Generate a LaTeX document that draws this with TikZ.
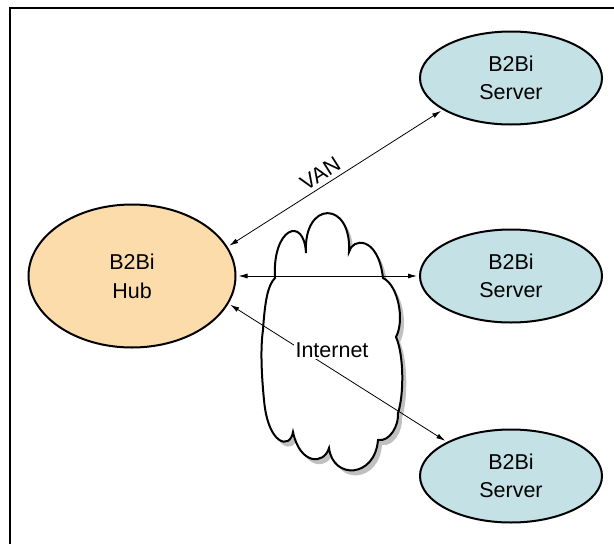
\documentclass[tikz,border=0pt]{standalone}
\usepackage{fontspec}
\setmainfont{Liberation Sans}
\usetikzlibrary{shapes.geometric,arrows.meta}
\definecolor{hubfill}{RGB}{253,220,172}
\definecolor{srvfill}{RGB}{196,226,230}
\definecolor{shadowgray}{RGB}{192,192,192}
\tikzset{
  hubnode/.style={ellipse,draw,line width=2pt,fill=hubfill,minimum width=207pt,minimum height=143pt,inner sep=0pt,align=center,font=\fontsize{21.5}{29}\selectfont},
  srvnode/.style={ellipse,draw,line width=2pt,fill=srvfill,minimum width=182pt,minimum height=93pt,inner sep=0pt,align=center,font=\fontsize{21.5}{28}\selectfont},
  link/.style={line width=0.8pt,shorten <=2pt,shorten >=2pt,{Latex[length=9pt,width=5pt]}-{Latex[length=9pt,width=5pt]}},
  lbl/.style={font=\fontsize{21.5}{26}\selectfont},
  frameline/.style={line width=2pt},
  cloudline/.style={line width=2pt,fill=white}
}
\newcommand\cloudshape{(275,278)
  .. controls (272,228) and (304,215) .. (306,253)
  .. controls (303,200) and (352,200) .. (349,252)
  .. controls (352,238) and (378,235) .. (383,278)
  .. controls (398,285) and (405,320) .. (396,337)
  .. controls (404,355) and (404,395) .. (398,413)
  .. controls (399,425) and (390,442) .. (378,440)
  .. controls (375,478) and (333,480) .. (329,448)
  .. controls (324,465) and (300,465) .. (293,432)
  .. controls (290,450) and (268,445) .. (264,400)
  .. controls (262,380) and (260,350) .. (263,330)
  .. controls (265,300) and (268,285) .. (275,278) -- cycle}
\begin{document}
\begin{tikzpicture}[x=1pt,y=-1pt]
\useasboundingbox (0,0) rectangle (614,544);
\draw[frameline] (10,544) -- (10,8) -- (614,8);
% cloud
\begin{scope}[shift={(4,5)}]
  \fill[shadowgray] \cloudshape;
\end{scope}
\draw[cloudline] \cloudshape;
% nodes
\node[hubnode] (hub) at (132,276) {B2Bi\\Hub};
\node[srvnode] (s1) at (511,78) {B2Bi\\Server};
\node[srvnode] (s2) at (511,276) {B2Bi\\Server};
\node[srvnode] (s3) at (511,476) {B2Bi\\Server};
% links
\draw[link] (hub.17) -- node[lbl,sloped,above,pos=0.46,inner sep=4pt]{VAN} (s1.205);
\draw[link] (hub.east) -- (s2.west);
\draw[link] (hub.-16) -- (s3.152);
\node[lbl,fill=white,inner sep=1.5pt,anchor=base] (inet) at (332,357) {Internet};
\end{tikzpicture}
\end{document}
